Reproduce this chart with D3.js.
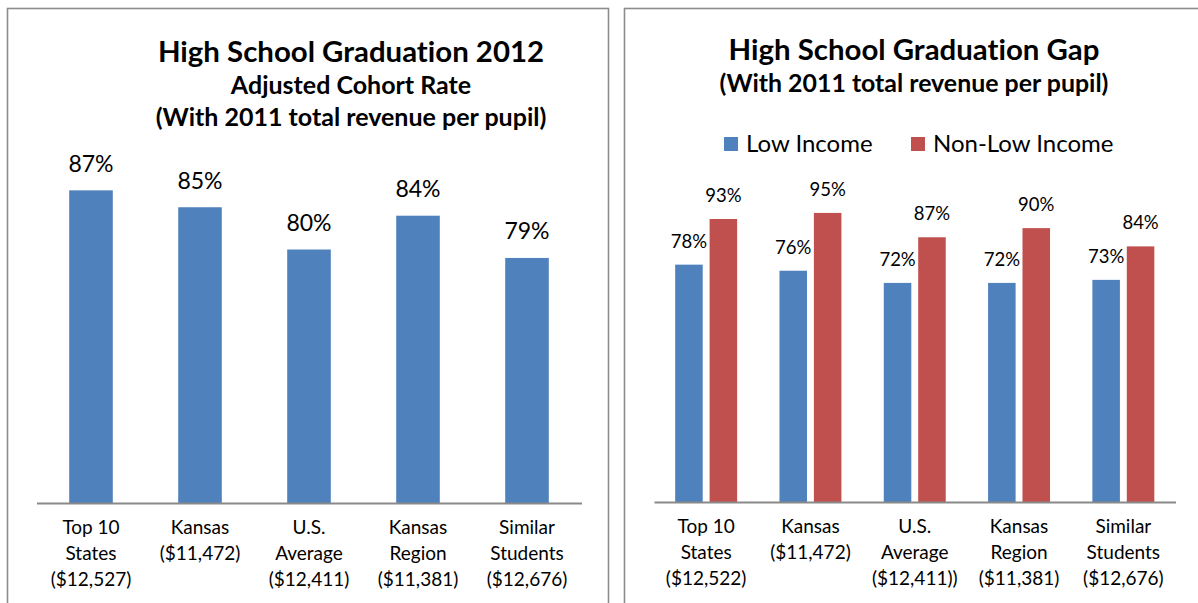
<!DOCTYPE html>
<html>
<head>
<meta charset="utf-8">
<script src="https://cdn.jsdelivr.net/npm/d3@7"></script>
<style>
  html, body { margin: 0; padding: 0; background: #ffffff; }
  svg { display: block; font-family: "Lato", "Noto Sans", sans-serif; }
  svg text { font-variant-ligatures: none; font-feature-settings: "liga" 0, "clig" 0; }
</style>
</head>
<body>
<svg id="chart" width="1198" height="603"></svg>
<script>
// ---- Data ----
const overallCategories = [
  ["Top 10", "States", "($12,527)"],
  ["Kansas", "($11,472)"],
  ["U.S.", "Average", "($12,411)"],
  ["Kansas", "Region", "($11,381)"],
  ["Similar", "Students", "($12,676)"]
];
const overallRate = [0.87, 0.85, 0.80, 0.84, 0.79];

const gapCategories = [
  ["Top 10", "States", "($12,522)"],
  ["Kansas", "($11,472)"],
  ["U.S.", "Average", "($12,411))"],
  ["Kansas", "Region", "($11,381)"],
  ["Similar", "Students", "($12,676)"]
];
const seriesNames = ["Low Income", "Non-Low Income"];
const lowIncome = [0.78, 0.76, 0.72, 0.72, 0.73];
const nonLowIncome = [0.93, 0.95, 0.87, 0.90, 0.84];

const leftTitle = ["High School Graduation 2012", "Adjusted Cohort Rate", "(With 2011 total revenue per pupil)"];
const rightTitle = ["High School Graduation Gap", "(With 2011 total revenue per pupil)"];

// ---- Styling ----
const BLUE = "#4F81BD";
const RED = "#C0504D";
const FRAME = "#8C8C8C";
const AXIS = "#898989";
const pct = d3.format(".0%");

const svg = d3.select("#chart");
svg.append("rect").attr("width", 1198).attr("height", 603).attr("fill", "#fff");

// Chart frames (bottom edge runs past the visible area)
svg.append("rect").attr("x", 7.5).attr("y", 8.5).attr("width", 601).attr("height", 620)
  .attr("fill", "none").attr("stroke", FRAME).attr("stroke-width", 1.6);
svg.append("rect").attr("x", 624.5).attr("y", 8.5).attr("width", 600).attr("height", 620)
  .attr("fill", "none").attr("stroke", FRAME).attr("stroke-width", 1.6);

function drawCategoryAxis(g, scale, cats, y) {
  const axis = d3.axisBottom(scale).tickSize(0).tickFormat(() => "");
  const ax = g.append("g").attr("transform", `translate(0,${y})`).call(axis);
  ax.select(".domain").attr("stroke", AXIS).attr("stroke-width", 2);
  ax.selectAll(".tick").each(function (d, i) {
    const t = d3.select(this).append("text")
      .attr("text-anchor", "middle")
      .attr("fill", "#000")
      .attr("font-size", 19)
      .attr("font-family", "Lato, sans-serif");
    cats[i].forEach((line, k) => {
      t.append("tspan").attr("x", 0).attr("y", 31 + k * 26).text(line);
    });
  });
}

// ---- Left chart: overall graduation rate ----
{
  const g = svg.append("g");
  const x = d3.scaleBand().domain(d3.range(overallRate.length))
    .range([36.5, 581.5]).paddingInner(0.6).paddingOuter(0.3);
  const y = d3.scaleLinear().domain([0.5, 1]).range([503, 80.5]);

  g.selectAll("rect.bar").data(overallRate).join("rect")
    .attr("class", "bar")
    .attr("x", (d, i) => x(i)).attr("width", x.bandwidth())
    .attr("y", d => y(d)).attr("height", d => y(0.5) - y(d))
    .attr("fill", BLUE);

  g.selectAll("text.val").data(overallRate).join("text")
    .attr("class", "val")
    .attr("x", (d, i) => x(i) + x.bandwidth() / 2)
    .attr("y", d => y(d) - 18.5)
    .attr("text-anchor", "middle").attr("font-size", 23).attr("fill", "#000")
    .text(d => pct(d));

  drawCategoryAxis(g, x, overallCategories, 503);

  const titleSizes = [29.4, 25, 25];
  const titleY = [62, 93.5, 126];
  leftTitle.forEach((s, k) => {
    g.append("text").attr("x", 351).attr("y", titleY[k])
      .attr("text-anchor", "middle").attr("font-weight", "bold")
      .attr("font-size", titleSizes[k]).attr("fill", "#000").text(s);
  });
}

// ---- Right chart: low income vs non-low income ----
{
  const g = svg.append("g");
  const x0 = d3.scaleBand().domain(d3.range(lowIncome.length))
    .range([654, 1175.5]).paddingInner(0.406).paddingOuter(0.203);
  const x1 = d3.scaleBand().domain([0, 1]).range([0, x0.bandwidth()]).paddingInner(0.2);
  const y = d3.scaleLinear().domain([0, 1]).range([502, 197.7]);
  const colors = [BLUE, RED];
  const series = [lowIncome, nonLowIncome];

  const groups = g.selectAll("g.grp").data(d3.range(lowIncome.length)).join("g")
    .attr("class", "grp").attr("transform", i => `translate(${x0(i)},0)`);

  groups.selectAll("rect").data(i => series.map((s, k) => ({ k, v: s[i] }))).join("rect")
    .attr("x", d => x1(d.k)).attr("width", x1.bandwidth())
    .attr("y", d => y(d.v)).attr("height", d => y(0) - y(d.v))
    .attr("fill", d => colors[d.k]);

  groups.selectAll("text").data(i => series.map((s, k) => ({ k, v: s[i] }))).join("text")
    .attr("x", d => x1(d.k) + x1.bandwidth() / 2)
    .attr("y", d => y(d.v) - 17)
    .attr("text-anchor", "middle").attr("font-size", 18.5).attr("fill", "#000")
    .text(d => pct(d.v));

  drawCategoryAxis(g, x0, gapCategories, 502);

  const titleSizes = [29.4, 24.9];
  const titleY = [60, 92];
  rightTitle.forEach((s, k) => {
    g.append("text").attr("x", 914).attr("y", titleY[k])
      .attr("text-anchor", "middle").attr("font-weight", "bold")
      .attr("font-size", titleSizes[k]).attr("fill", "#000").text(s);
  });

  // Legend
  const legendX = [724, 911];
  seriesNames.forEach((name, k) => {
    g.append("rect").attr("x", legendX[k]).attr("y", 137).attr("width", 14).attr("height", 14)
      .attr("fill", colors[k]);
    g.append("text").attr("x", legendX[k] + 22).attr("y", 151.5)
      .attr("font-size", 24).attr("fill", "#000").text(name);
  });
}
</script>
</body>
</html>
